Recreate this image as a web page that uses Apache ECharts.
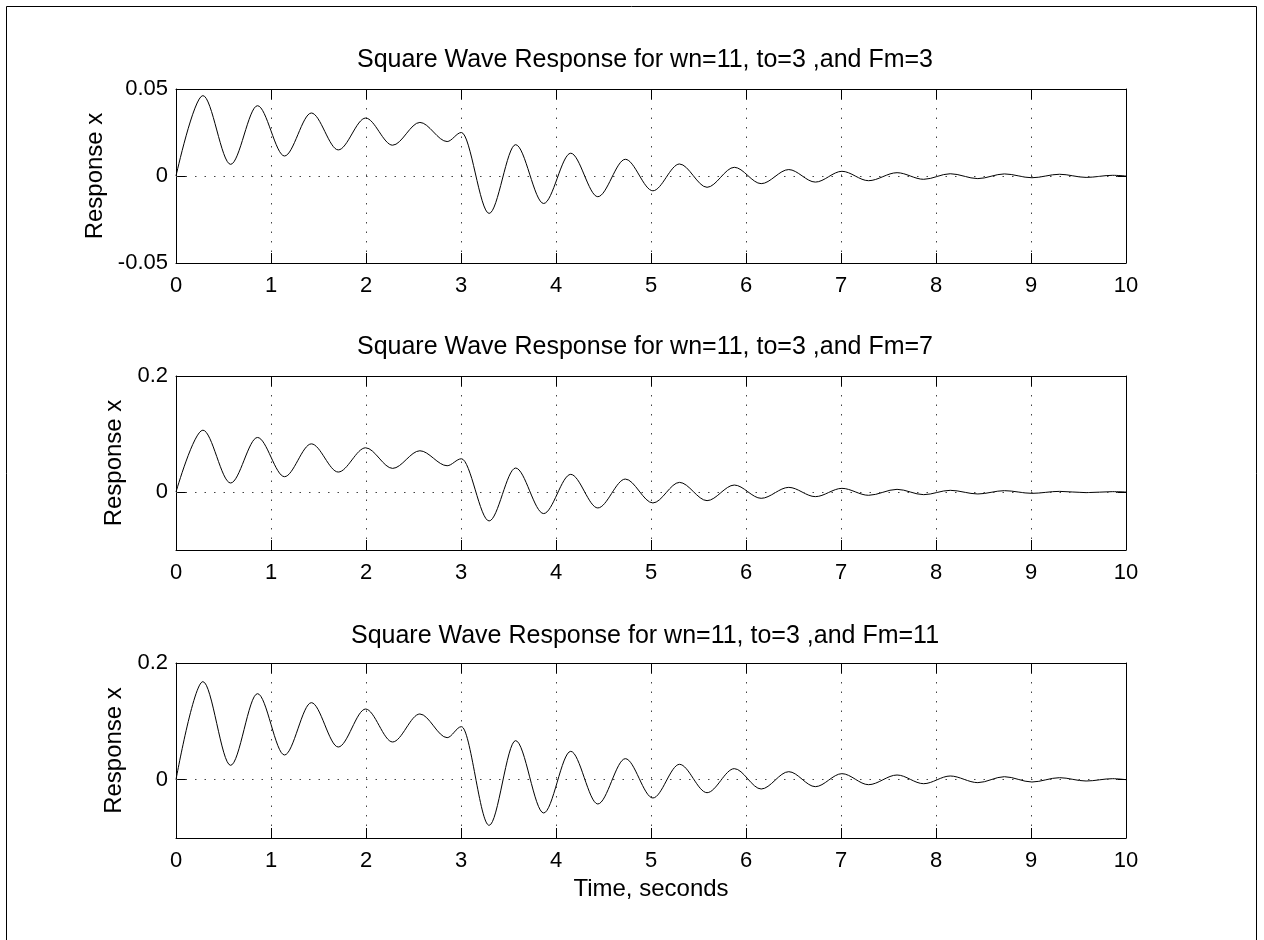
<!DOCTYPE html>
<html>
<head>
<meta charset="utf-8">
<script src="https://cdn.jsdelivr.net/npm/echarts@6/dist/echarts.min.js"></script>
<style>
  html, body { margin: 0; padding: 0; background: #fff; }
  #chart { width: 1264px; height: 940px; }
</style>
</head>
<body>
<div id="chart"></div>
<script>
// Times (s) of the start, each local peak / trough, and the end of the record
const timeSec = [
  0, 0.283, 0.575, 0.858, 1.142, 1.425, 1.708, 1.996, 2.28, 2.567, 2.854,
  3.004, 3.296, 3.575, 3.87, 4.155, 4.44, 4.73, 5.02, 5.30, 5.59, 5.877,
  6.16, 6.45, 6.73, 7.01, 7.29, 7.59, 7.87, 8.15, 8.44, 8.72, 9.01, 9.3,
  9.58, 9.86, 10
];

// Response x at those times, one array per forcing amplitude Fm
const responseFm3 = [
  0, 0.0462, 0.0067, 0.0404, 0.0115, 0.0362, 0.015, 0.0333, 0.0177, 0.0308, 0.0198,
  0.025, -0.0215, 0.018, -0.0158, 0.0131, -0.0119, 0.0096, -0.0085, 0.0069, -0.0065, 0.005,
  -0.0044, 0.0037, -0.0035, 0.0027, -0.0027, 0.0019, -0.0019, 0.0013, -0.0015, 0.0012, -0.001, 0.001,
  -0.0008, 0.0004, 0
];
const responseFm7 = [
  0, 0.1066, 0.0155, 0.094, 0.0264, 0.083, 0.0344, 0.0762, 0.0407, 0.0711, 0.0453,
  0.0573, -0.0499, 0.0413, -0.0372, 0.0304, -0.0275, 0.0223, -0.0189, 0.0166, -0.0149, 0.012,
  -0.0109, 0.008, -0.008, 0.0063, -0.0057, 0.0046, -0.0046, 0.0029, -0.0034, 0.0023, -0.0023, 0.0011,
  -0.0011, 0.0006, 0
];
const responseFm11 = [
  0, 0.168, 0.0246, 0.1474, 0.0423, 0.132, 0.056, 0.1211, 0.0646, 0.1126, 0.072,
  0.0909, -0.0783, 0.0669, -0.0571, 0.0486, -0.0417, 0.036, -0.0314, 0.0263, -0.0223, 0.0189,
  -0.016, 0.0137, -0.012, 0.0103, -0.0086, 0.008, -0.0069, 0.0063, -0.0051, 0.0051, -0.004, 0.0034,
  -0.0023, 0.0017, 0
];

const panelTitles = [
  'Square Wave Response for wn=11, to=3 ,and Fm=3',
  'Square Wave Response for wn=11, to=3 ,and Fm=7',
  'Square Wave Response for wn=11, to=3 ,and Fm=11'
];
const yRanges = [[-0.05, 0.05], [-0.1, 0.2], [-0.1, 0.2]];
const yTickValues = [[-0.05, 0, 0.05], [0, 0.2], [0, 0.2]];
const xTickMin = 0, xTickMax = 10, xTickStep = 1;
const yAxisTitle = 'Response x';
const xAxisTitle = 'Time, seconds';

const FONT = '"Liberation Sans", Arial, Helvetica, sans-serif';
const INK = '#000';
const DOT = { type: [1.5, 8], color: '#444', width: 1 };

const layout = [
  { top: 89,  height: 174, titleY: 60,  nameGap: 69 },
  { top: 376, height: 174, titleY: 347, nameGap: 45 },
  { top: 663, height: 175, titleY: 636, nameGap: 45 }
];
const seriesValues = [responseFm3, responseFm7, responseFm11];

const grids = [], xAxes = [], yAxes = [], series = [], graphics = [];

// outer figure frame
graphics.push({
  type: 'rect', silent: true,
  shape: { x: 6.5, y: 6.5, width: 1250, height: 1000 },
  style: { fill: 'none', stroke: INK, lineWidth: 1 }
});

layout.forEach((p, i) => {
  grids.push({ left: 176, width: 950, top: p.top, height: p.height, containLabel: false });

  const baseX = {
    type: 'value', gridIndex: i, min: xTickMin, max: xTickMax, interval: xTickStep,
    axisLine: { onZero: false, lineStyle: { color: INK, width: 1 } },
    axisTick: { inside: true, length: 10, lineStyle: { color: INK, width: 1 } }
  };
  xAxes.push(Object.assign({}, baseX, {
    position: 'bottom',
    axisLabel: { color: INK, fontSize: 22, fontFamily: FONT, margin: 12 },
    splitLine: { show: true, lineStyle: DOT },
    name: i === 2 ? xAxisTitle : '',
    nameLocation: 'middle', nameGap: 39,
    nameTextStyle: { color: INK, fontSize: 24, fontFamily: FONT }
  }));
  xAxes.push(Object.assign({}, baseX, {
    position: 'top',
    axisLabel: { show: false },
    splitLine: { show: false }
  }));

  const [ymin, ymax] = yRanges[i];
  const ticks = yTickValues[i];
  const baseY = {
    type: 'value', gridIndex: i, min: ymin, max: ymax,
    axisLine: { onZero: false, lineStyle: { color: INK, width: 1 } },
    axisTick: { inside: true, length: 10, customValues: ticks, lineStyle: { color: INK, width: 1 } },
    splitLine: { show: false }
  };
  yAxes.push(Object.assign({}, baseY, {
    position: 'left',
    axisLabel: {
      color: INK, fontSize: 22, fontFamily: FONT, margin: 8,
      customValues: ticks, padding: [3, 0, 0, 0]
    },
    name: yAxisTitle, nameLocation: 'middle', nameRotate: 90, nameGap: p.nameGap,
    nameTextStyle: { color: INK, fontSize: 24, fontFamily: FONT }
  }));
  yAxes.push(Object.assign({}, baseY, {
    position: 'right',
    axisLabel: { show: false }
  }));

  series.push({
    type: 'line',
    xAxisIndex: 2 * i, yAxisIndex: 2 * i,
    data: timeSec.map((t, k) => [t, seriesValues[i][k]]),
    smooth: 0.33, smoothMonotone: 'x',
    showSymbol: false, symbol: 'none',
    lineStyle: { color: INK, width: 1 },
    markLine: {
      silent: true, symbol: ['none', 'none'],
      label: { show: false },
      lineStyle: DOT,
      data: [{ yAxis: 0 }]
    },
    z: 3
  });

  graphics.push({
    type: 'text', silent: true,
    x: 645, y: p.titleY,
    style: {
      text: panelTitles[i], fill: INK,
      font: '25px ' + FONT, align: 'center', verticalAlign: 'middle'
    }
  });
});

const chart = echarts.init(document.getElementById('chart'), null, { renderer: 'canvas' });
chart.setOption({
  animation: false,
  backgroundColor: '#fff',
  textStyle: { fontFamily: FONT },
  grid: grids,
  xAxis: xAxes,
  yAxis: yAxes,
  series: series,
  graphic: graphics
});
</script>
</body>
</html>
